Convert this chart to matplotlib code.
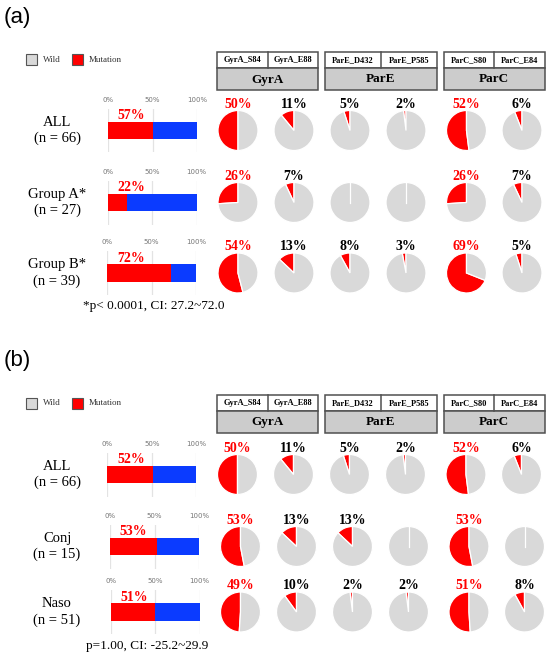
import matplotlib
matplotlib.use("Agg")
import matplotlib.pyplot as plt
from matplotlib.patches import Rectangle

# Data
genes = ["GyrA", "ParE", "ParC"]
sites = ["GyrA_S84", "GyrA_E88", "ParE_D432", "ParE_P585", "ParC_S80", "ParC_E84"]

groups_a = ["ALL\n(n = 66)", "Group A*\n(n = 27)", "Group B*\n(n = 39)"]
bar_a = [51, 22, 72]
bar_labels_a = ["57%", "22%", "72%"]
pies_a = [
    [50, 11, 5, 2, 52, 6],
    [26, 7, 0, 0, 26, 7],
    [54, 13, 8, 3, 69, 5],
]
note_a = "*p< 0.0001, CI: 27.2~72.0"

groups_b = ["ALL\n(n = 66)", "Conj\n(n = 15)", "Naso\n(n = 51)"]
bar_b = [51, 53, 50]
bar_labels_b = ["52%", "53%", "51%"]
pies_b = [
    [50, 11, 5, 2, 52, 6],
    [53, 13, 13, 0, 53, 0],
    [49, 10, 2, 2, 51, 8],
]
note_b = "p=1.00, CI: -25.2~29.9"

RED = "#FF0000"
GRAY = "#D9D9D9"
BLUE = "#0B3BFF"
SERIF = "Liberation Serif"

W, H = 550, 658
fig = plt.figure(figsize=(W / 100, H / 100), dpi=100)

# overlay in pixel coords for boxes / text
ov = fig.add_axes([0, 0, 1, 1])
ov.set_xlim(0, W)
ov.set_ylim(H, 0)
ov.axis("off")


def px_axes(x0, y0, w, h):
    return fig.add_axes([x0 / W, 1 - (y0 + h) / H, w / W, h / H])


pie_x = [238, 294, 350, 406, 466.5, 522]
box_x = [(217, 318), (324.5, 437), (443.5, 545)]


def panel(tag, tag_y, legend_y, box_top, rows_y, pie_shift, bar_x0, groups, bars, bar_labels,
          pies, note, note_xy):
    ov.text(4, tag_y, tag, fontsize=16, family="Liberation Sans", va="center", ha="left")

    # legend
    ov.add_patch(Rectangle((26, legend_y - 5.5), 10.5, 11, facecolor=GRAY, edgecolor="#555555", lw=0.8))
    ov.text(43, legend_y, "Wild", fontsize=6.5, family=SERIF, va="center", color="#333333")
    ov.add_patch(Rectangle((72, legend_y - 5.5), 10.5, 11, facecolor=RED, edgecolor="#555555", lw=0.8))
    ov.text(89, legend_y, "Mutation", fontsize=6.5, family=SERIF, va="center", color="#333333")

    # gene header boxes
    mid = box_top + 16
    bot = box_top + 38
    for i, (x0, x1) in enumerate(box_x):
        xm = (x0 + x1) / 2
        ov.add_patch(Rectangle((x0, box_top), x1 - x0, 16, facecolor="white", edgecolor="#505050", lw=1.1))
        ov.plot([xm, xm], [box_top, mid], color="#505050", lw=1.1)
        ov.add_patch(Rectangle((x0, mid), x1 - x0, bot - mid, facecolor="#CCCCCC", edgecolor="#505050", lw=1.1))
        ov.text((x0 + xm) / 2, box_top + 8.5, sites[2 * i], fontsize=6, family=SERIF,
                fontweight="bold", ha="center", va="center")
        ov.text((xm + x1) / 2, box_top + 8.5, sites[2 * i + 1], fontsize=6, family=SERIF,
                fontweight="bold", ha="center", va="center")
        ov.text(xm, (mid + bot) / 2 + 0.5, genes[i], fontsize=9.5, family=SERIF,
                fontweight="bold", ha="center", va="center")

    for r, cy in enumerate(rows_y):
        # row label
        ov.text(57, cy, groups[r], fontsize=10.5, family=SERIF, ha="center", va="center",
                linespacing=1.25)

        # stacked bar
        bx = px_axes(bar_x0[r], cy - 22, 89, 44)
        m = bars[r]
        bx.barh(0, m, height=0.79, color=RED)
        bx.barh(0, 100 - m, left=m, height=0.79, color=BLUE)
        bx.set_xlim(0, 100)
        bx.set_ylim(-1, 1)
        bx.set_xticks([0, 50, 100])
        bx.set_xticklabels(["0%", "50%", "100%"])
        bx.xaxis.tick_top()
        bx.tick_params(axis="x", length=0, pad=4, labelsize=5, labelcolor="#777777")
        bx.set_yticks([])
        bx.grid(axis="x", color="#E3E3E3", lw=0.9)
        bx.set_axisbelow(True)
        for s in bx.spines.values():
            s.set_visible(False)
        bx.patch.set_alpha(0)
        bx.text(26.5, 0.66, bar_labels[r], color=RED, fontsize=10, family=SERIF,
                fontweight="bold", ha="center", va="center")

        # pies
        for j, val in enumerate(pies[r]):
            cx = pie_x[j] + pie_shift[r]
            pa = px_axes(cx - 25, cy - 25, 50, 50)
            pa.pie([val, 100 - val], colors=[RED, GRAY], startangle=90, counterclock=True,
                   wedgeprops=dict(edgecolor="white", linewidth=0.9))
            pa.set_xlim(-1.25, 1.25)
            pa.set_ylim(-1.25, 1.25)
            if val > 0:
                pa.text(0, 1.32, f"{val}%", color=RED if val >= 20 else "black", fontsize=10,
                        family=SERIF, fontweight="bold", ha="center", va="center")
            else:
                # the empty slice still leaves its white seam at 12 o'clock
                pa.plot([0, 0], [0, 1], color="white", lw=0.9)

    ov.text(note_xy[0], note_xy[1], note, fontsize=9.5, family=SERIF, ha="center", va="center")


panel("(a)", 17.5, 59.5, 52, [130.5, 202.5, 273], [0, 0, 0], [108, 107.7, 107],
      groups_a, bar_a, bar_labels_a, pies_a, note_a, (154, 306.5))
panel("(b)", 360.5, 403, 394.5, [474.5, 546.5, 612], [-0.5, 2.5, 2.5], [107.3, 110, 110.7],
      groups_b, bar_b, bar_labels_b, pies_b, note_b, (147.5, 646.5))

fig.savefig("out.png", dpi=100)
